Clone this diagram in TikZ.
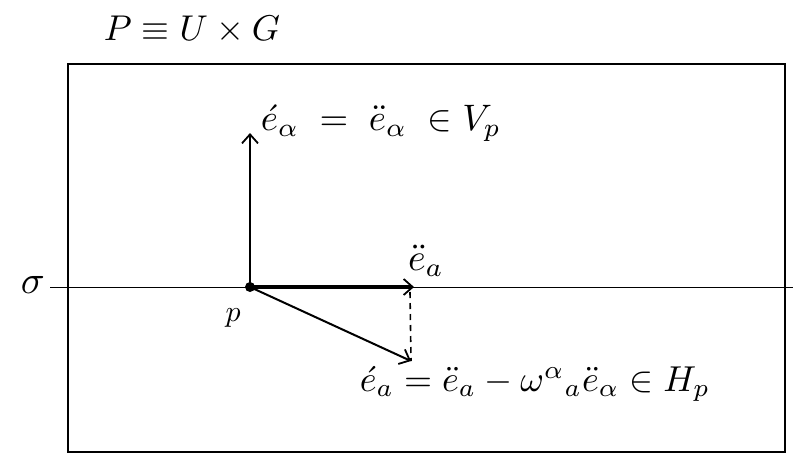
\documentclass[tikz,border=0pt]{standalone}
\usepackage{amsmath}
\usepackage{graphicx}
\usetikzlibrary{arrows.meta}
\tikzset{
  vec/.style={line width=2pt,-{Straight Barb[length=9pt,width=16pt,line width=1.8pt]}},
  thickvec/.style={line width=3.2pt,-{Straight Barb[length=9pt,width=16pt,line width=1.8pt]}},
  lbl/.style={inner sep=0pt,anchor=center}
}
\begin{document}
\begin{tikzpicture}[x=1pt,y=-1pt]
\useasboundingbox (0,0) rectangle (793,456);
% title
\node[lbl] (title) at (192,30) {\resizebox{176pt}{!}{$P\equiv U\times G$}};
% box
\draw[line width=2pt] (68,64) rectangle (785,452);
% sigma line
\coordinate (sl) at (50,287);
\coordinate (sr) at (793,287);
\draw[line width=0.9pt] (sl) -- (sr);
\node[lbl] (sigma) at (33,285) {\resizebox{24pt}{!}{$\sigma$}};
% point p
\coordinate (p) at (250,287);
\fill (p) circle (5pt);
\node[lbl] (plabel) at (233,318) {\resizebox{15pt}{!}{$p$}};
% endpoints
\coordinate (vt) at (250,133);
\coordinate (ht) at (414,287);
\coordinate (dt) at (411,361);
\coordinate (dtop) at (410,292);
\draw[vec] (p) -- (vt);
\draw[thickvec] (p) -- (ht);
\draw[vec] (p) -- (dt);
\draw[line width=1.6pt,dash pattern=on 6pt off 5pt] (dtop) -- (dt);
% labels
\node[lbl] (Vlab) at (381,123) {\resizebox{240pt}{!}{$\acute{e}_\alpha \;=\; \ddot{e}_\alpha \;\in V_p$}};
\node[lbl] (ealab) at (426,261) {\resizebox{36pt}{!}{$\ddot{e}_a$}};
\node[lbl] (Hlab) at (535,384) {\resizebox{350pt}{!}{$\acute{e}_a = \ddot{e}_a - \omega^{\alpha}{}_{a}\ddot{e}_\alpha \in H_p$}};
\end{tikzpicture}
\end{document}
